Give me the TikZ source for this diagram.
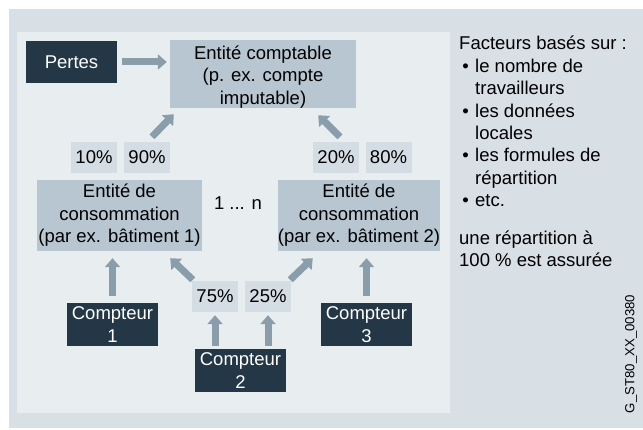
\documentclass[tikz,border=0pt]{standalone}
\usepackage{fontspec}
\setmainfont{Liberation Sans}
\usepackage{tikz}
\usetikzlibrary{arrows.meta, calc}
\definecolor{outerbg}{HTML}{D8DFE5}
\definecolor{innerbg}{HTML}{E8EDF0}
\definecolor{lightslate}{HTML}{B8C6D1}
\definecolor{palebox}{HTML}{D4DDE3}
\definecolor{darknavy}{HTML}{243746}
\definecolor{arrowgrey}{HTML}{8A9DAB}

\begin{document}
\begin{tikzpicture}[
    x=1pt, y=-1pt,
    box/.style={
        rectangle,
        inner sep=0pt,
        align=center,
        font=\fontsize{18.5}{22.4}\selectfont,
    },
    meter/.style={box, fill=darknavy, text=white, minimum width=91pt, minimum height=43pt},
    entity/.style={box, fill=lightslate},
    share/.style={box, fill=palebox, minimum width=46pt, minimum height=31pt},
    flow/.style={-{Triangle[width=15pt,length=9pt]}, line width=7pt, color=arrowgrey}
]
\useasboundingbox (0,0) rectangle (643,430);
\fill[outerbg] (9,9) rectangle (643,428);
\fill[innerbg] (17,32) rectangle (450,413);

\node[meter, minimum height=42pt] (Pertes) at (71.5,62) {Pertes};
\node[entity, minimum width=186pt, minimum height=68pt] (Compta) at (263,74) {%
  \vphantom{Ép}\\[-19pt]Entité comptable\\(p. ex. compte\\imputable)};
\node[share] (P10) at (94,157.5) {10\%};
\node[share] (P90) at (147,157.5) {90\%};
\node[share] (P20) at (336,157.5) {20\%};
\node[share] (P80) at (388.5,157.5) {80\%};
\node[entity, minimum width=165pt, minimum height=71pt] (Conso1) at (119.5,215.5) {%
  Entité de\\consommation\\(par ex. bâtiment 1)};
\node[entity, minimum width=162pt, minimum height=71pt] (Conso2) at (359,215.5) {%
  Entité de\\consommation\\(par ex. bâtiment 2)};
\node[box] (Dots) at (238,203) {1 ... n};
\node[share] (P75) at (215,296.5) {75\%};
\node[share] (P25) at (268,296.5) {25\%};
\node[meter] (Cpt1) at (112.5,324.5) {Compteur\\1};
\node[meter] (Cpt2) at (240.5,370.5) {Compteur\\2};
\node[meter] (Cpt3) at (366.5,324.5) {Compteur\\3};

\draw[flow] ([xshift=5pt]Pertes.east) -- ($(Pertes.east -| Compta.west)+(-3,0)$);
\draw[flow] ($(P90.north)+(5,-5)$) -- ($(Compta.south west)+(4,6)$);
\draw[flow] ($(P20.north)+(4,-5)$) -- ($(Compta.south east)+(-38,7)$);
\draw[flow] ($(Cpt1.north)+(0,-7)$) -- ($(Cpt1.north |- Conso1.south)+(0,7)$);
\draw[flow] ($(Cpt3.north)+(0,-7)$) -- ($(Cpt3.north |- Conso2.south)+(0,7)$);
\draw[flow] ($(P75.north west)+(1,-1)$) -- ($(Conso1.south east)+(-32,7)$);
\draw[flow] ($(P25.north east)+(-1,-1)$) -- ($(Conso2.south west)+(35,7)$);
\draw[flow] ($(P75.south |- Cpt2.north)+(0,-3)$) -- ($(P75.south)+(0,3)$);
\draw[flow] ($(P25.south |- Cpt2.north)+(0,-3)$) -- ($(P25.south)+(0,3)$);

\node[box, align=left, anchor=north west] (Facteurs) at (459,36) {%
  Facteurs basés sur :\\
  \makebox[16pt][l]{\,•}le nombre de\\
  \hspace*{16pt}travailleurs\\
  \makebox[16pt][l]{\,•}les données\\
  \hspace*{16pt}locales\\
  \makebox[16pt][l]{\,•}les formules de\\
  \hspace*{16pt}répartition\\
  \makebox[16pt][l]{\,•}etc.\\[15pt]
  une répartition à\\
  100 \% est assurée};
\node[font=\fontsize{13.2}{15}\selectfont, rotate=90, inner sep=0pt] (Code) at (631,354) {G\_ST80\_XX\_00380};
\end{tikzpicture}
\end{document}
